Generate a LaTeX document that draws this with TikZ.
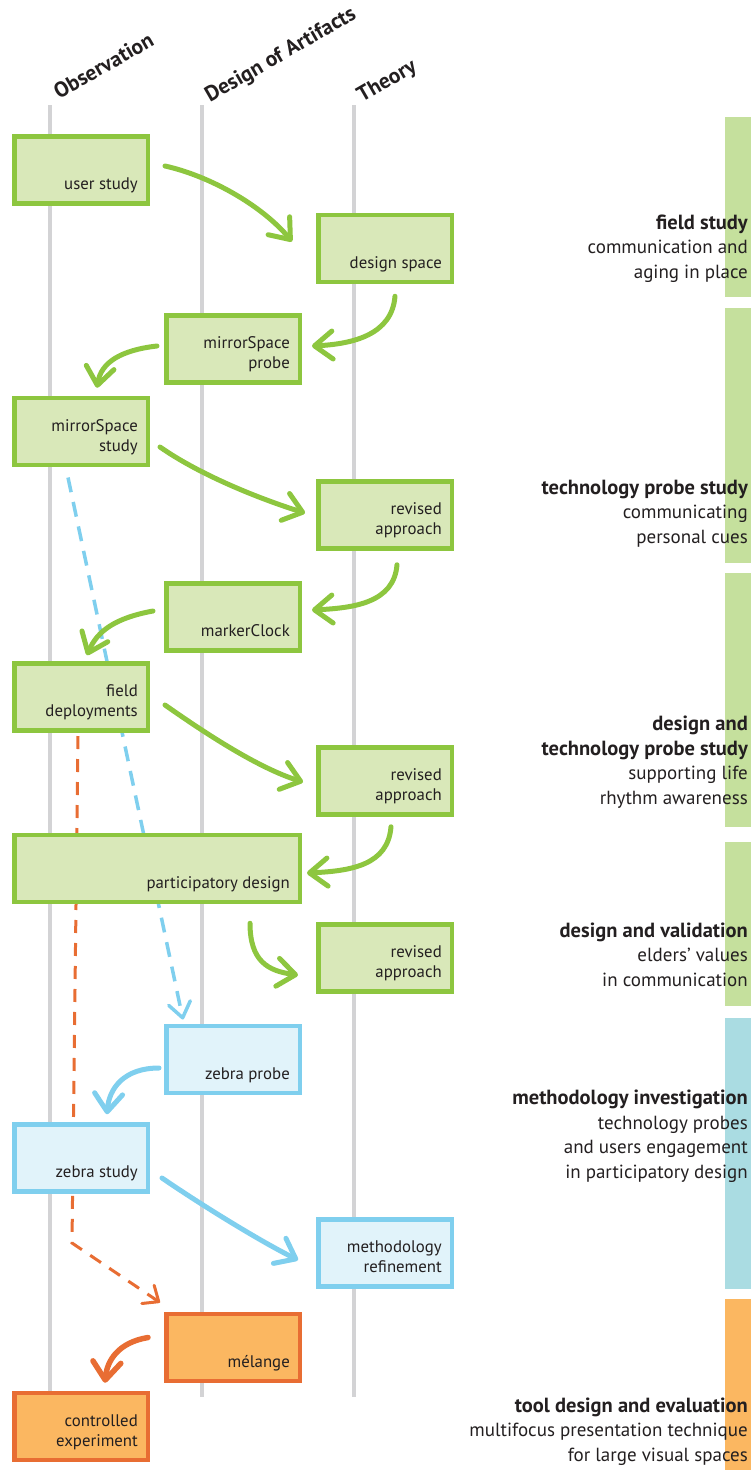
\documentclass[tikz,border=0pt]{standalone}
\usepackage{fontspec}
\setmainfont{PT Sans}
\usetikzlibrary{arrows.meta,calc}
\definecolor{laneC}{HTML}{D3D3D5}
\definecolor{grnS}{HTML}{8DC63F}
\definecolor{grnF}{HTML}{D9E8B9}
\definecolor{bluS}{HTML}{7FCFEE}
\definecolor{bluF}{HTML}{E1F3FA}
\definecolor{orgS}{HTML}{E86D33}
\definecolor{orgF}{HTML}{FBB761}
\definecolor{barG}{HTML}{C5E09D}
\definecolor{barB}{HTML}{AADCE2}
\definecolor{barO}{HTML}{FBB761}
\definecolor{ink}{HTML}{231F20}
\newcommand{\hd}[1]{{\bfseries\fontsize{20.5}{24.5}\selectfont #1}}
\tikzset{
  lane/.style={draw=laneC, line width=4.5pt},
  box/.style={draw, line width=4.5pt, minimum width=133.5pt, minimum height=67pt, inner sep=0pt},
  gbox/.style={box, draw=grnS, fill=grnF},
  bbox/.style={box, draw=bluS, fill=bluF},
  obox/.style={box, draw=orgS, fill=orgF},
  lbl/.style={font=\fontsize{16.8}{20}\selectfont, text=ink, align=right, inner sep=0pt, anchor=south east, text depth=4pt},
  rtext/.style={font=\fontsize{19}{24.5}\selectfont, text=ink, align=right, inner sep=0pt, anchor=base east},
  hdr/.style={font=\bfseries\fontsize{21.5}{24}\selectfont, text=ink, inner sep=0pt, anchor=base west, rotate=30},
  tip/.style={-{Straight Barb[length=18pt,width=28pt,round]}},
  garr/.style={draw=grnS, line width=5pt, line cap=round, tip},
  barr/.style={draw=bluS, line width=5pt, line cap=round, tip},
  oarr/.style={draw=orgS, line width=5.5pt, line cap=round, tip},
  bdash/.style={draw=bluS, line width=3.5pt, dash pattern=on 15pt off 10pt, -{Straight Barb[length=15pt,width=22pt,round]}},
  odash/.style={draw=orgS, line width=3pt, dash pattern=on 13pt off 10pt, -{Straight Barb[length=13pt,width=22pt,round]}},
}
\begin{document}
\begin{tikzpicture}[x=1pt,y=-1pt]
\useasboundingbox (0,0) rectangle (751,1470);

% phase bars on the right edge
\fill[barG] (725,117) rectangle (751,297);
\fill[barG] (725,308) rectangle (751,563);
\fill[barG] (725,573) rectangle (751,827);
\fill[barG] (725,842) rectangle (751,1006);
\fill[barB] (725,1018) rectangle (751,1289);
\fill[barO] (725,1299) rectangle (751,1470);

% swim lanes
\draw[lane] (50,105) -- (50,1397);
\draw[lane] (202,105) -- (202,1397);
\draw[lane] (354,105) -- (354,1397);
\node[hdr] (hObs) at (59,100) {Observation};
\node[hdr] (hDes) at (210,103) {Design of Artifacts};
\node[hdr] (hThe) at (362,103) {Theory};

% box positions
\coordinate (pus) at (81,170);
\coordinate (pds) at (385,248.5);
\coordinate (pmp) at (233,349);
\coordinate (pms) at (81,431.5);
\coordinate (pra1) at (385,515);
\coordinate (pmc) at (233,617);
\coordinate (pfd) at (81,697);
\coordinate (pra2) at (385,781);
\coordinate (ppd) at (157,868.5);
\coordinate (pra3) at (385,958);
\coordinate (pzp) at (233,1059.5);
\coordinate (pzs) at (81,1158);
\coordinate (pmr) at (385,1253);
\coordinate (pme) at (233,1347.5);
\coordinate (pce) at (81,1426.5);

% dashed links run behind the boxes
\path (pms) ++(-13,46) coordinate (bd0);
\path (pzp) ++(-50,-40) coordinate (bd1);
\draw[bdash] (bd0) -- (bd1);
\path (pfd) ++(-3,39) coordinate (od0);
\path (pzs) ++(-9,85) coordinate (od1);
\path (pme) ++(-73,-45) coordinate (od2);
\draw[odash] (od0) -- (od1) -- (od2);

% boxes
\node[gbox] (us) at (pus) {};
\node[gbox] (ds) at (pds) {};
\node[gbox] (mp) at (pmp) {};
\node[gbox] (ms) at (pms) {};
\node[gbox] (ra1) at (pra1) {};
\node[gbox] (mc) at (pmc) {};
\node[gbox] (fd) at (pfd) {};
\node[gbox] (ra2) at (pra2) {};
\node[gbox, minimum width=285.5pt] (pd) at (ppd) {};
\node[gbox] (ra3) at (pra3) {};
\node[bbox] (zp) at (pzp) {};
\node[bbox] (zs) at (pzs) {};
\node[bbox] (mr) at (pmr) {};
\node[obox] (me) at (pme) {};
\node[obox] (ce) at (pce) {};

% box captions, bottom right
\node[lbl] (tus) at ($(us.south east)+(-12,-12)$) {user study};
\node[lbl] (tds) at ($(ds.south east)+(-12,-12)$) {design space};
\node[lbl] (tmp) at ($(mp.south east)+(-12,-12)$) {mirrorSpace\\probe};
\node[lbl] (tms) at ($(ms.south east)+(-12,-12)$) {mirrorSpace\\study};
\node[lbl] (tra1) at ($(ra1.south east)+(-12,-12)$) {revised\\approach};
\node[lbl] (tmc) at ($(mc.south east)+(-12,-12)$) {markerClock};
\node[lbl] (tfd) at ($(fd.south east)+(-12,-12)$) {field\\deployments};
\node[lbl] (tra2) at ($(ra2.south east)+(-12,-12)$) {revised\\approach};
\node[lbl] (tpd) at ($(pd.south east)+(-12,-12)$) {participatory design};
\node[lbl] (tra3) at ($(ra3.south east)+(-12,-12)$) {revised\\approach};
\node[lbl] (tzp) at ($(zp.south east)+(-12,-12)$) {zebra probe};
\node[lbl] (tzs) at ($(zs.south east)+(-12,-12)$) {zebra study};
\node[lbl] (tmr) at ($(mr.south east)+(-12,-12)$) {methodology\\refinement};
\node[lbl] (tme) at ($(me.south east)+(-12,-12)$) {mélange};
\node[lbl] (tce) at ($(ce.south east)+(-12,-12)$) {controlled\\experiment};

% solid flow arrows
\draw[garr] ($(us.east)+(15,-4)$) .. controls +(45,10) and +(-30,-36) .. ($(ds.west)+(-24,-7)$);
\draw[garr] ($(ds.south)+(10,12)$) .. controls +(-3,38) and +(42,-2) .. ($(mp.east)+(10,-3)$);
\draw[garr] ($(mp.west)+(-7,-3)$) .. controls +(-35,4) and +(4,-26) .. ($(ms.north)+(16,-8)$);
\draw[garr] ($(ms.east)+(10,15.5)$) .. controls +(40,28) and +(-45,-14) .. ($(ra1.west)+(-11,-2)$);
\draw[garr] ($(ra1.south)+(12,14)$) .. controls +(-3,38) and +(42,-2) .. ($(mc.east)+(10,-7)$);
\draw[garr] ($(mc.west)+(-11,-6)$) .. controls +(-38,7) and +(10,-24) .. ($(fd.north)+(6,-6)$);
\draw[garr] ($(fd.east)+(15,8)$) .. controls +(40,28) and +(-45,-14) .. ($(ra2.west)+(-13,1)$);
\draw[garr] ($(ra2.south)+(6,10)$) .. controls +(-3,38) and +(45,-2) .. ($(pd.east)+(5,4.5)$);
\draw[garr] ($(pd.south east)+(-52,19)$) .. controls +(0,38) and +(-30,-4) .. ($(ra3.west)+(-18,17)$);
\draw[barr] ($(zp.west)+(-5,8.5)$) .. controls +(-35,0) and +(2,-26) .. ($(zs.north)+(26,-8)$);
\draw[barr] ($(zs.east)+(12,20)$) .. controls +(38,26) and +(-40,-20) .. ($(mr.west)+(-18,7)$);
\draw[oarr] ($(me.west)+(-16,-10)$) .. controls +(-30,5) and +(2,-22) .. ($(ce.north)+(24,-8)$);

% study descriptions (anchored at the baseline of the last line)
\node[rtext] (d1) at (748,278) {\hd{field study}\\communication and\\aging in place};
\node[rtext] (d2) at (748,543) {\hd{technology probe study}\\communicating\\personal cues};
\node[rtext] (d3) at (748,804) {\hd{design and}\\\hd{technology probe study}\\supporting life\\rhythm awareness};
\node[rtext] (d4) at (748,986) {\hd{design and validation}\\elders’ values\\in communication};
\node[rtext] (d5) at (748,1178) {\hd{methodology investigation}\\technology probes\\and users engagement\\in participatory design};
\node[rtext] (d6) at (748,1461) {\hd{tool design and evaluation}\\multifocus presentation technique\\for large visual spaces};
\end{tikzpicture}
\end{document}
